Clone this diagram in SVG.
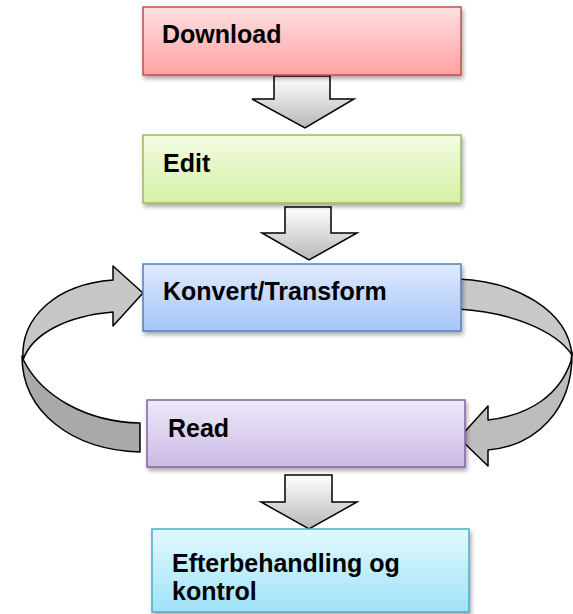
<svg xmlns="http://www.w3.org/2000/svg" width="573" height="614" viewBox="0 0 573 614">
<style>
  .lbl { font-family: "Liberation Sans", Arial, sans-serif; font-weight: bold; font-size: 25px; fill: #000; }
  .box { stroke-width: 1.5; filter: url(#sh); }
  .arr { fill: url(#gArr); stroke: #000; stroke-width: 1.5; stroke-linejoin: miter; }
  .rib { stroke: #000; stroke-width: 1.5; stroke-linejoin: round; }
</style>
<defs>
  <filter id="sh" x="-10%" y="-20%" width="120%" height="150%">
    <feDropShadow dx="1.5" dy="3" stdDeviation="2" flood-color="#000" flood-opacity="0.35"/>
  </filter>
  <linearGradient id="gRed" x1="0" y1="0" x2="0" y2="1"><stop offset="0" stop-color="#ffe0e0"/><stop offset="1" stop-color="#ffa2a2"/></linearGradient>
  <linearGradient id="gGreen" x1="0" y1="0" x2="0" y2="1"><stop offset="0" stop-color="#f3fbe4"/><stop offset="1" stop-color="#d5f1a2"/></linearGradient>
  <linearGradient id="gBlue" x1="0" y1="0" x2="0" y2="1"><stop offset="0" stop-color="#dfeafd"/><stop offset="1" stop-color="#a5c5f9"/></linearGradient>
  <linearGradient id="gPurple" x1="0" y1="0" x2="0" y2="1"><stop offset="0" stop-color="#efe9f7"/><stop offset="1" stop-color="#cbb9e6"/></linearGradient>
  <linearGradient id="gCyan" x1="0" y1="0" x2="0" y2="1"><stop offset="0" stop-color="#e2f8fd"/><stop offset="1" stop-color="#9fe3f8"/></linearGradient>
  <linearGradient id="gArr" x1="0" y1="0" x2="0" y2="1"><stop offset="0" stop-color="#ffffff"/><stop offset="1" stop-color="#b8b8b8"/></linearGradient>
</defs>

<g id="connectors">
  <path id="a1" class="arr" d="M274,76 L330,76 L330,99 L354,99 L305,128 L252,99 L274,99 Z"/>
  <path id="a2" class="arr" d="M285,207 L331,207 L331,233 L357,233 L309,260 L262,233 L285,233 Z"/>
  <path id="a3" class="arr" d="M285,475 L332,475 L332,502 L357,502 L309,529 L261,502 L285,502 Z"/>
  <g id="loopLeft">
    <path class="rib" fill="#a9a9a9" d="M22,356 C22,412 72,450 140,452 L140,423 C86,422 42,396 24,361 Z"/>
    <path class="rib" fill="#c6c6c6" d="M113,280 L113,266 L143,293 L113,326 L113,312 C66,316 32,334 23,360 C20,316 58,284 113,280 Z"/>
  </g>
  <g id="loopRight">
    <path class="rib" fill="#c8c8c8" d="M458,279 C515,281 568,310 572,355 C556,331 511,312 458,309 Z"/>
    <path class="rib" fill="#bdbdbd" d="M572,352 C573,410 536,446 488,450 L488,466 L459,438 L488,406 L488,420 C531,415 560,394 571,361 Z"/>
  </g>
</g>

<g id="download">
  <rect class="box" x="143" y="7" width="318" height="68" fill="url(#gRed)" stroke="#c0504d"/>
  <text class="lbl" x="162" y="43">Download</text>
</g>
<g id="edit">
  <rect class="box" x="143" y="135" width="318" height="68" fill="url(#gGreen)" stroke="#9bbb59"/>
  <text class="lbl" x="163" y="172">Edit</text>
</g>
<g id="konvert">
  <rect class="box" x="143" y="264" width="318" height="67" fill="url(#gBlue)" stroke="#4f81bd"/>
  <text class="lbl" x="163" y="300">Konvert/Transform</text>
</g>
<g id="read">
  <rect class="box" x="147" y="400" width="318" height="67" fill="url(#gPurple)" stroke="#8064a2"/>
  <text class="lbl" x="168" y="437">Read</text>
</g>
<g id="efter">
  <rect class="box" x="152" y="529" width="317" height="83" fill="url(#gCyan)" stroke="#4bacc6"/>
  <text class="lbl" x="172" y="572">Efterbehandling og</text>
  <text class="lbl" x="172" y="600">kontrol</text>
</g>
</svg>
